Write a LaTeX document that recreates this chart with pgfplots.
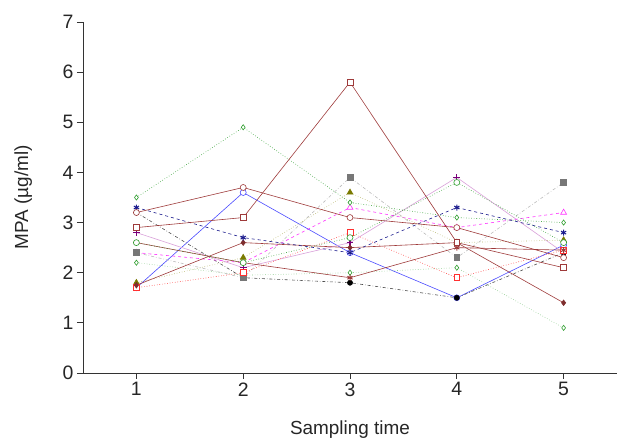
\documentclass[border=0pt]{standalone}
\usepackage{pgfplots}
\pgfplotsset{compat=1.18}
\usepackage{fontspec}
\setmainfont{Liberation Sans}
\definecolor{dred}{HTML}{9E3A3A}
\definecolor{mblue}{HTML}{4A4AFF}
\definecolor{navy}{HTML}{1A1A8C}
\definecolor{mgreen}{HTML}{2E9E2E}
\definecolor{lgreen}{HTML}{8CCB8C}
\definecolor{mgray}{HTML}{777777}
\definecolor{lgray}{HTML}{BBBBBB}
\definecolor{olive}{HTML}{7A7A00}
\definecolor{lolive}{HTML}{B5B56A}
\definecolor{mag}{HTML}{FF33FF}
\definecolor{mred}{HTML}{FF3030}
\definecolor{purp}{HTML}{7A007A}
\definecolor{lpurp}{HTML}{D9A0D9}
\begin{document}
\begin{tikzpicture}
\begin{axis}[
  scale only axis,
  width=534bp, height=351bp,
  xmin=0.5, xmax=5.5, ymin=0, ymax=7,
  axis lines=left,
  axis line style={-, line width=0.8pt, black!80},
  xtick={1,2,3,4,5}, ytick={0,1,...,7},
  tick align=outside, major tick length=6bp,
  tick style={black!80, line width=0.8pt},
  /pgf/number format/assume math mode=true,
  tick label style={font=\fontsize{19.5}{22}\selectfont, text=black!85},
  label style={font=\fontsize{19}{22}\selectfont, text=black!85},
  xlabel={Sampling time},
  ylabel={MPA (µg/ml)},
  xlabel style={at={(axis description cs:0.5,-0.162)}, anchor=center},
  ylabel style={at={(axis description cs:-0.112,0.5)}, anchor=center, rotate=0},
  every axis plot/.append style={line width=0.6pt, mark size=3pt},
  clip=false,
]
\coordinate (ll) at (rel axis cs:0,0);
\coordinate (ur) at (rel axis cs:1,1);
% blue circle
\addplot[mblue, mark=*, mark options={solid, fill=white}] coordinates {(1,1.7)(2,3.6)(3,2.4)(4,1.5)(5,2.55)};
% black dash-dot
\addplot[black!70, dash dot, mark=*, mark options={solid, black}, mark size=2.6pt] coordinates {(1,3.2)(2,1.9)(3,1.8)(4,1.5)(5,2.4)};
% purple plus
\addplot[lpurp, mark=+, mark options={solid, purp, line width=1.2pt}, mark size=3.4pt] coordinates {(1,2.8)(2,2.1)(3,2.6)(4,3.9)(5,2.4)};
% magenta triangle
\addplot[mag, dashed, mark=triangle*, mark options={solid, fill=white}, mark size=3.4pt] coordinates {(1,2.4)(2,2.2)(3,3.3)(4,2.9)(5,3.2)};
% light green diamond
\addplot[lgreen, dotted, mark=diamond*, mark options={solid, draw=mgreen, fill=white}, mark size=2.6pt] coordinates {(1,2.2)(2,1.95)(3,2.0)(4,2.1)(5,0.9)};
% gray square
\addplot[lgray, dash dot, mark=square*, mark options={solid, mgray}] coordinates {(1,2.4)(2,1.9)(3,3.9)(4,2.3)(5,3.8)};
% olive triangle
\addplot[lolive, dotted, mark=triangle*, mark options={solid, olive}, mark size=3.4pt] coordinates {(1,1.8)(2,2.3)(3,3.6)(4,2.6)(5,2.65)};
% red square
\addplot[mred, dotted, mark=square*, mark options={solid, fill=white}] coordinates {(1,1.7)(2,2.0)(3,2.8)(4,1.9)(5,2.45)};
% dark red filled diamond
\addplot[dred, mark=diamond*, mark options={solid, fill=dred!80!black, draw=dred!80!black}, mark size=2.8pt] coordinates {(1,1.75)(2,2.6)(3,2.5)(4,2.6)(5,1.4)};
% dark red asterisk
\addplot[dred, mark=asterisk, mark options={solid, line width=1pt}] coordinates {(1,2.6)(2,2.2)(3,1.9)(4,2.5)(5,2.45)};
% green diamond dotted
\addplot[mgreen, dotted, mark=diamond*, mark options={solid, fill=white}, mark size=2.6pt] coordinates {(1,3.5)(2,4.9)(3,3.4)(4,3.1)(5,3.0)};
% navy asterisk
\addplot[navy, dashed, mark=asterisk, mark options={solid, line width=1pt}] coordinates {(1,3.3)(2,2.7)(3,2.4)(4,3.3)(5,2.8)};
% dark red square
\addplot[dred, mark=square*, mark options={solid, fill=white}] coordinates {(1,2.9)(2,3.1)(3,5.8)(4,2.6)(5,2.1)};
% dark red circle
\addplot[dred, mark=*, mark options={solid, fill=white}] coordinates {(1,3.2)(2,3.7)(3,3.1)(4,2.9)(5,2.3)};
% green circle
\addplot[mgreen, dotted, mark=*, mark options={solid, fill=white}] coordinates {(1,2.6)(2,2.2)(3,2.7)(4,3.8)(5,2.6)};
\end{axis}
\pgfresetboundingbox
\path ([shift={(-83bp,-67bp)}]ll) rectangle ([shift={(0bp,22bp)}]ur);
\end{tikzpicture}
\end{document}
